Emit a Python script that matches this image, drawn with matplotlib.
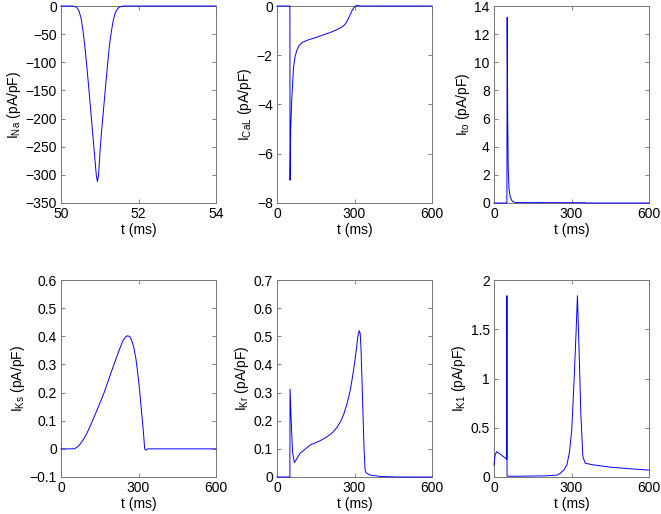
import numpy as np
import matplotlib
matplotlib.use("Agg")
import matplotlib.pyplot as plt

plt.rcParams["font.family"] = ["Liberation Sans", "DejaVu Sans"]
plt.rcParams["mathtext.default"] = "regular"
plt.rcParams["font.size"] = 10

#  I_Na (fast sodium), zoomed on the upstroke
t_na = [50.0, 50.3, 50.4, 50.46, 50.52, 50.57, 50.62, 50.67, 50.72, 50.77, 50.82, 50.87, 50.91, 50.94,
        50.97, 51.01, 51.05, 51.09, 51.13, 51.17, 51.21, 51.25, 51.3, 51.35, 51.4, 51.45, 51.5, 51.6, 54.0]
i_na = [0, 0, -2, -8, -22, -45, -75, -110, -148, -188, -228, -268, -300, -312,
        -300, -255, -220, -190, -158, -128, -98, -70, -45, -25, -12, -6, -2, 0, 0]

#  I_CaL
t_cal = [0, 49.9, 50.5, 53, 57, 64, 70, 77, 86, 97, 120, 150, 205, 230, 250, 260, 268, 275,
         282, 290, 297, 304, 310, 320, 600]
i_cal = [0, 0, -7.07, -5.0, -3.8, -2.5, -2.05, -1.8, -1.6, -1.48, -1.38, -1.28, -1.08, -0.97, -0.86, -0.78, -0.68, -0.54,
         -0.38, -0.2, -0.07, 0, 0.03, 0, 0]

#  I_to
t_to = [0, 49.9, 51, 53, 55, 58, 62, 68, 75, 85, 350, 360, 600]
i_to = [0, 0, 13.2, 6.0, 2.5, 1.0, 0.5, 0.2, 0.08, 0.03, 0.02, 0, 0]

#  I_Ks
t_ks = [0, 50, 55, 65, 75, 88, 100, 110, 122, 145, 167, 186, 205, 225, 240, 250, 258, 266, 274,
        282, 290, 297, 303, 309, 314, 319, 324, 328, 335, 600]
i_ks = [0, 0, 0.002, 0.008, 0.018, 0.035, 0.055, 0.075, 0.1, 0.15, 0.2, 0.25, 0.3, 0.35, 0.385, 0.398, 0.402, 0.399, 0.385,
        0.36, 0.32, 0.27, 0.22, 0.16, 0.11, 0.06, 0.0, -0.005, 0, 0]

#  I_Kr
t_kr = [0, 49.9, 50.5, 55, 60, 67, 90, 129, 165, 194, 215, 232, 246, 258, 270, 283, 293, 302,
        308, 313, 318, 322, 325, 329, 333, 337, 341, 345, 360, 400, 460, 600]
i_kr = [0, 0, 0.312, 0.2, 0.09, 0.051, 0.085, 0.114, 0.128, 0.143, 0.158, 0.176, 0.197, 0.222, 0.257, 0.305, 0.36, 0.416,
        0.46, 0.5, 0.52, 0.51, 0.46, 0.345, 0.22, 0.1, 0.025, 0.015, 0.007, 0.002, 0, 0]

#  I_K1
t_k1 = [0, 4, 10, 20, 35, 49.5, 50, 50.5, 100, 200, 245, 256, 270, 282, 292, 301,
        310, 318, 323, 329, 336, 344, 353, 380, 450, 520, 600]
i_k1 = [0.12, 0.22, 0.257, 0.24, 0.21, 0.18, 1.84, 0.008, 0.008, 0.012, 0.02, 0.037, 0.07, 0.12, 0.25, 0.48,
        0.98, 1.49, 1.84, 1.32, 0.65, 0.206, 0.14, 0.125, 0.1, 0.085, 0.07]

panels = [
    (t_na, i_na, "I$_{Na}$ (pA/pF)", (50, 54), [50, 52, 54], (-350, 0), np.arange(-350, 1, 50)),
    (t_cal, i_cal, "I$_{CaL}$ (pA/pF)", (0, 600), [0, 300, 600], (-8, 0), np.arange(-8, 1, 2)),
    (t_to, i_to, "I$_{to}$ (pA/pF)", (0, 600), [0, 300, 600], (0, 14), np.arange(0, 15, 2)),
    (t_ks, i_ks, "I$_{Ks}$ (pA/pF)", (0, 600), [0, 300, 600], (-0.1, 0.6), np.round(np.arange(-0.1, 0.61, 0.1), 1)),
    (t_kr, i_kr, "I$_{Kr}$ (pA/pF)", (0, 600), [0, 300, 600], (0, 0.7), np.round(np.arange(0, 0.71, 0.1), 1)),
    (t_k1, i_k1, "I$_{K1}$ (pA/pF)", (0, 600), [0, 300, 600], (0, 2), [0, 0.5, 1, 1.5, 2]),
]

fig = plt.figure(figsize=(6.61, 5.14), dpi=100)
lefts = [61, 277, 494]
bottoms = [203, 477]
for k, (t, y, lab, xl, xt, yl, yt) in enumerate(panels):
    row, col = divmod(k, 3)
    ax = fig.add_axes([lefts[col] / 661, 1 - bottoms[row] / 514, 155 / 661, 197 / 514])
    #  not clipped, so the flat parts on the box edge stay visible
    ax.plot(t, y, color="#0000ff", lw=0.7, zorder=3, clip_on=False)
    ax.set_xlim(*xl)
    ax.set_ylim(*yl)
    ax.set_xticks(xt)
    ax.set_yticks(yt)
    ax.set_yticklabels([("%g" % v).replace("-", "\u2212") for v in yt])
    ax.set_xlabel("t (ms)", labelpad=1)
    ax.set_ylabel(lab, labelpad=2)
    ax.tick_params(direction="in", top=True, right=True, length=3, width=0.5,
                   color="#555555", labelsize=10, pad=3)
    for s in ax.spines.values():
        s.set_color("#777777")
        s.set_linewidth(0.7)

fig.savefig("out.png", dpi=100)
